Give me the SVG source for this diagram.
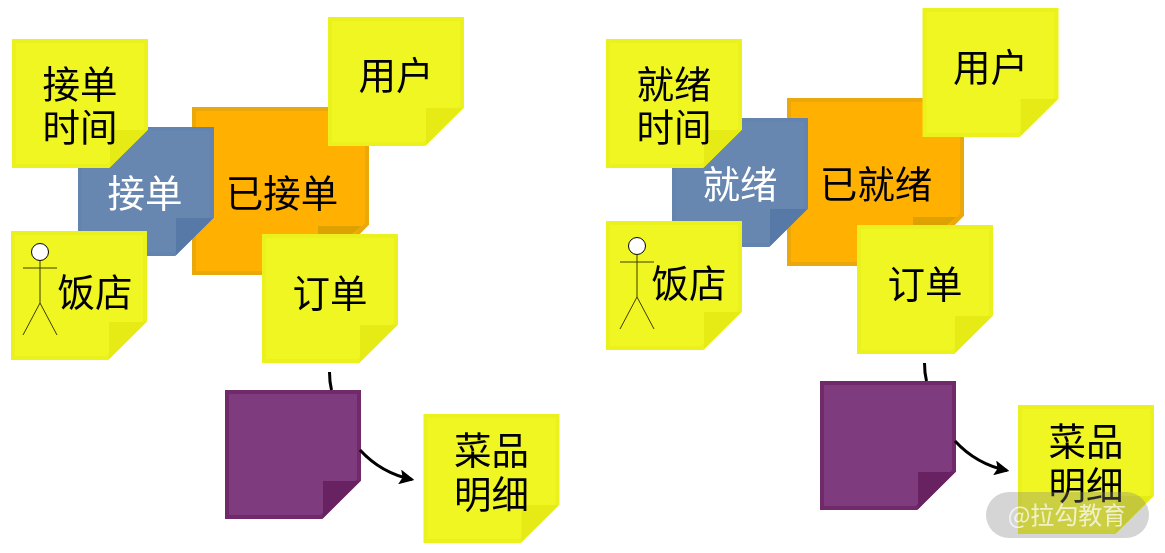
<svg xmlns="http://www.w3.org/2000/svg" width="1165" height="553" viewBox="0 0 1165 553">
<defs>
<polygon id="b" points="2,2 134,2 134,90 96.500,127 2,127"/>
<polygon id="f" points="98,128 98,91 135,91"/>
<polygon id="ob" points="2,2 175,2 175,117 166,126 130,166 2,166"/>
<polygon id="of" points="126,119 170,119 160,127 126,127"/>
<filter id="soft" x="-5%" y="-5%" width="110%" height="110%"><feGaussianBlur stdDeviation="0.6"/></filter>
<marker id="ah" markerWidth="5" markerHeight="5" refX="4.200" refY="2.500" orient="auto"><path d="M0,0 L5,2.500 L0,5 L1,2.500 Z" fill="#000"/></marker>
</defs>
<style>
text{font-family:"Noto Sans CJK SC","Noto Sans",sans-serif;font-size:37.5px;text-anchor:middle;fill:#000}
.y,.bl,.o,.p,#connectors,#wm{filter:url(#soft)}
.y use:first-child{fill:#f0f622;stroke:#ebf11c;stroke-width:4}
.y .fold{fill:#e6eb12}
.bl use:first-child{fill:#6787b0;stroke:#6484ae;stroke-width:4}
.bl .fold{fill:#5679a8}
.bl text{fill:#fff}
.o use:first-child{fill:#ffb000;stroke:#eba808;stroke-width:4}
.o .fold{fill:#dea200}
.p use:first-child{fill:#7e3a7d;stroke:#702a69;stroke-width:4}
.p .fold{fill:#672462}
.c{fill:none;stroke:#000;stroke-width:3}
.fig line{stroke:#3c3c00;stroke-width:1}
.fig circle{fill:#fff;stroke:#000;stroke-width:1}
#wm text{font-size:24px;fill:#fff;fill-opacity:.72}
</style>

<g id="orange-left" class="o" transform="translate(192,107)"><use href="#ob"/><use href="#of" class="fold"/><text x="90" y="100">已接单</text></g>
<g id="blue-left" class="bl" transform="translate(78,127)"><use href="#b"/><use href="#f" class="fold"/><text x="67" y="80">接单</text></g>
<g id="time-left" class="y" transform="translate(12,39)"><use href="#b"/><use href="#f" class="fold"/><text x="68" y="59">接单</text><text x="68" y="102">时间</text></g>
<g id="user-left" class="y" transform="translate(328,17)"><use href="#b"/><use href="#f" class="fold"/><text x="68" y="72">用户</text></g>
<g id="shop-left" class="y" transform="translate(11,231)"><use href="#b"/><use href="#f" class="fold"/><text x="84" y="75">饭店</text>
<g class="fig"><circle cx="29" cy="21" r="8.500"/><line x1="29" y1="29.500" x2="29" y2="72"/><line x1="12" y1="37" x2="46" y2="37"/><line x1="29" y1="72" x2="12" y2="104"/><line x1="29" y1="72" x2="46" y2="104"/></g></g>
<g id="order-left" class="y" transform="translate(262,234)"><use href="#b"/><use href="#f" class="fold"/><text x="68" y="73">订单</text></g>
<g id="purple-left" class="p" transform="translate(225,390)"><use href="#b"/><use href="#f" class="fold"/></g>
<g id="dish-left" class="y" transform="translate(423.500,414)"><use href="#b"/><use href="#f" class="fold"/><text x="68" y="50">菜品</text><text x="68" y="94">明细</text></g>

<g id="orange-right" class="o" transform="translate(787,98)"><use href="#ob"/><use href="#of" class="fold"/><text x="89" y="100">已就绪</text></g>
<g id="blue-right" class="bl" transform="translate(672,118)"><use href="#b"/><use href="#f" class="fold"/><text x="68" y="80">就绪</text></g>
<g id="time-right" class="y" transform="translate(606,39)"><use href="#b"/><use href="#f" class="fold"/><text x="68" y="59">就绪</text><text x="68" y="102">时间</text></g>
<g id="user-right" class="y" transform="translate(922.500,8)"><use href="#b"/><use href="#f" class="fold"/><text x="68" y="73">用户</text></g>
<g id="shop-right" class="y" transform="translate(606,221)"><use href="#b"/><use href="#f" class="fold"/><text x="83" y="76">饭店</text>
<g class="fig"><circle cx="31" cy="25" r="8.500"/><line x1="31" y1="33.500" x2="31" y2="76"/><line x1="14" y1="41" x2="48" y2="41"/><line x1="31" y1="76" x2="14" y2="108"/><line x1="31" y1="76" x2="48" y2="108"/></g></g>
<g id="order-right" class="y" transform="translate(857,225)"><use href="#b"/><use href="#f" class="fold"/><text x="68" y="73">订单</text></g>
<g id="purple-right" class="p" transform="translate(820,381)"><use href="#b"/><use href="#f" class="fold"/></g>
<g id="dish-right" class="y" transform="translate(1018,405)"><use href="#b"/><use href="#f" class="fold"/><text x="68" y="50">菜品</text><text x="68" y="94">明细</text></g>

<g id="connectors">
<path class="c" d="M329.500,372 Q329.500,382 331.500,390"/>
<path class="c" d="M360,450 Q381,473 412,479.500" marker-end="url(#ah)"/>
<path class="c" d="M924.500,363 Q924.500,373 926.500,381"/>
<path class="c" d="M955,441 Q976,464 1007,470.500" marker-end="url(#ah)"/>
</g>
<g id="wm"><rect x="986" y="492" width="163" height="46" rx="23" fill="#808080" fill-opacity=".33"/><text x="1067" y="524">@拉勾教育</text></g>
</svg>
